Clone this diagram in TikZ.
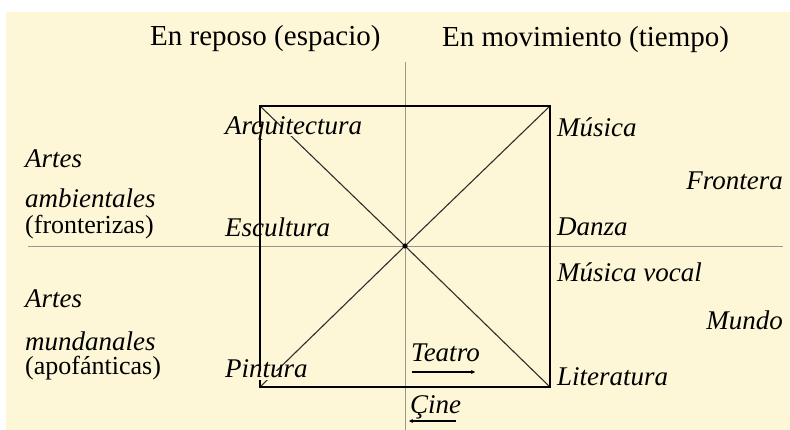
\documentclass[tikz,border=0pt]{standalone}
\usepackage{fontspec}
\setmainfont{Liberation Serif}
\usetikzlibrary{arrows.meta}
\definecolor{bg}{HTML}{FEF7D7}
\definecolor{axisgray}{HTML}{9A968A}
\definecolor{diaggray}{HTML}{2E2E2E}
\tikzset{
  lab/.style={font=\fontsize{27}{29}\selectfont\itshape, inner sep=0pt, text height=0.7em, text depth=0.2em},
  uplab/.style={font=\fontsize{26}{28}\selectfont, inner sep=0pt, text height=0.7em, text depth=0.2em},
  headlab/.style={font=\fontsize{29}{31}\selectfont, inner sep=0pt, text height=0.7em, text depth=0.2em},
  axisline/.style={draw=axisgray, line width=0.8pt},
  diagline/.style={draw=diaggray, line width=1.1pt},
  frameline/.style={draw=black, line width=2.2pt, line cap=rect},
  moveline/.style={draw=black, line width=1.2pt, -{Stealth[length=4pt,width=4pt]}},
}
\begin{document}
\begin{tikzpicture}[x=1pt,y=-1pt]
\useasboundingbox (0,0) rectangle (790,430);
\fill[white] (0,0) rectangle (790,430);
\fill[bg] (6,12) rectangle (790,430);

% coordinates
\coordinate (hl) at (28,246);
\coordinate (hr) at (783,246);
\coordinate (vt) at (405,62);
\coordinate (vb) at (405,430);
\coordinate (tl) at (260,106);
\coordinate (tr) at (550,106);
\coordinate (br) at (550,387);
\coordinate (bl) at (260,387);
\coordinate (c) at (405,246);

% axes
\draw[axisline] (hl) -- (hr);
\draw[axisline] (vt) -- (vb);
% diagonals
\draw[diagline] (tl) -- (c);
\draw[diagline] (c) -- (tr);
\draw[diagline] (bl) -- (c);
\draw[diagline] (c) -- (br);
% frame
\draw[frameline] (tl) -- (tr) -- (br) -- (bl) -- cycle;
\fill[black] (c) circle (2.6pt);

% headings
\node[headlab, anchor=west] (reposo) at (150,43) {En reposo (espacio)};
\node[headlab, anchor=west] (movim) at (442,44) {En movimiento (tiempo)};

% left column
\node[lab, anchor=west] (artes1) at (25,165) {Artes};
\node[lab, anchor=west] (ambient) at (25,205) {ambientales};
\node[uplab, anchor=west] (fronter) at (25,231) {(fronterizas)};
\node[lab, anchor=west] (artes2) at (25,305) {Artes};
\node[lab, anchor=west] (mundan) at (25,348) {mundanales};
\node[uplab, anchor=west] (apof) at (25,372) {(apofánticas)};

% arts in the square
\node[lab, anchor=west, fill=bg] (arq) at (225,132) {Arquitectura};
\node[lab, anchor=west] (escul) at (225,234) {Escultura};
\node[lab, anchor=west, fill=bg] (pint) at (225,375) {Pintura};
\node[lab, anchor=west] (musica) at (557,134) {Música};
\node[lab, anchor=west] (danza) at (557,233) {Danza};
\node[lab, anchor=west] (mvocal) at (557,279) {Música vocal};
\node[lab, anchor=west] (liter) at (557,383) {Literatura};

% right column
\node[lab, anchor=east] (frontera) at (783,187) {Frontera};
\node[lab, anchor=east] (mundo) at (783,327) {Mundo};

% teatro / cine
\node[lab, anchor=west] (teatro) at (411,359) {Teatro};
\node[lab, anchor=west] (cine) at (410,411) {Çine};
\coordinate (ta) at (412,372);
\coordinate (tb) at (475,372);
\coordinate (ca) at (456,421);
\coordinate (cb) at (409,421);
\draw[moveline] (ta) -- (tb);
\draw[moveline] (ca) -- (cb);
\end{tikzpicture}
\end{document}
